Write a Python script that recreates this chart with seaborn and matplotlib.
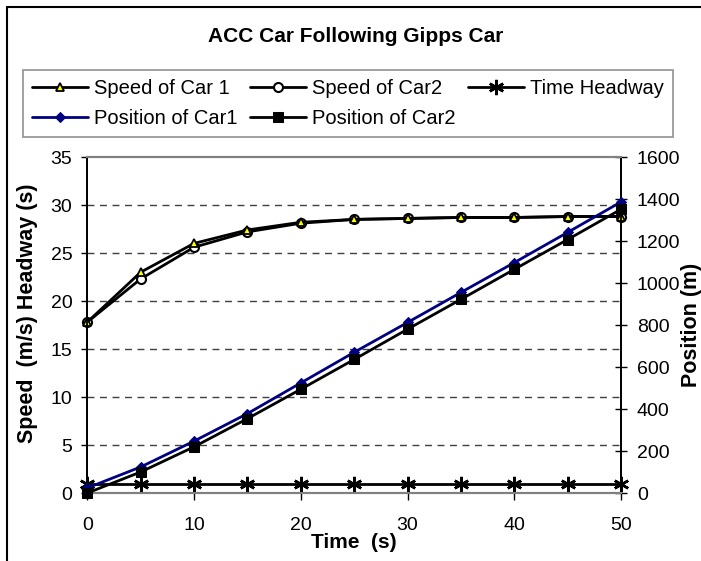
import matplotlib
matplotlib.use("Agg")
import matplotlib.pyplot as plt
from matplotlib.lines import Line2D
import seaborn as sns
import pandas as pd

# ---- data ----
time_s = [0, 5, 10, 15, 20, 25, 30, 35, 40, 45, 50]
speed_car1 = [17.8, 23.0, 26.0, 27.4, 28.2, 28.5, 28.6, 28.7, 28.7, 28.8, 28.8]
speed_car2 = [17.8, 22.3, 25.6, 27.2, 28.1, 28.5, 28.6, 28.7, 28.7, 28.8, 28.8]
time_headway = [0.9, 0.9, 0.9, 0.9, 0.9, 0.9, 0.9, 0.9, 0.9, 0.9, 0.9]
position_car1 = [24, 124, 247, 378, 524, 670, 812, 955, 1097, 1241, 1386]
position_car2 = [0, 100, 220, 354, 494, 636, 780, 922, 1065, 1207, 1351]

left_ticks = [0, 5, 10, 15, 20, 25, 30, 35]
right_ticks = [0, 200, 400, 600, 800, 1000, 1200, 1400, 1600]
x_ticks = [0, 10, 20, 30, 40, 50]

title = "ACC Car Following Gipps Car"
xlabel = "Time  (s)"
ylabel_left = "Speed  (m/s) Headway (s)"
ylabel_right = "Position (m)"

df = pd.DataFrame({
    "t": time_s,
    "s1": speed_car1,
    "s2": speed_car2,
    "th": time_headway,
    "p1": position_car1,
    "p2": position_car2,
})

sns.set_style("white")
plt.rcParams["font.family"] = ["Liberation Sans", "DejaVu Sans"]
plt.rcParams["text.color"] = "black"
plt.rcParams["axes.labelcolor"] = "black"
plt.rcParams["xtick.color"] = "black"
plt.rcParams["ytick.color"] = "black"

W, H = 701, 561
fig = plt.figure(figsize=(W / 100, H / 100), dpi=100)
ax = fig.add_axes([87.3 / W, 1 - 493 / H, (621 - 87.3) / W, (493 - 157) / H])
ax2 = ax.twinx()

navy = "#000080"
lw = 2.0

sns.lineplot(data=df, x="t", y="s1", ax=ax, color="black", lw=lw, marker="^",
             markersize=6, markerfacecolor="#ffff00", markeredgecolor="black",
             markeredgewidth=1.3, label="Speed of Car 1", clip_on=False, zorder=4)
sns.lineplot(data=df, x="t", y="s2", ax=ax, color="black", lw=lw, marker="o",
             markersize=6.5, markerfacecolor="white", markeredgecolor="black",
             markeredgewidth=1.5, label="Speed of Car2", clip_on=False, zorder=3)
sns.lineplot(data=df, x="t", y="th", ax=ax, color="black", lw=lw, marker=(6, 2, 0),
             markersize=11, markeredgecolor="black", markeredgewidth=1.8,
             label="Time Headway", clip_on=False, zorder=3)
sns.lineplot(data=df, x="t", y="p1", ax=ax2, color=navy, lw=lw, marker="D",
             markersize=5.5, markerfacecolor=navy, markeredgecolor=navy,
             label="Position of Car1", clip_on=False, zorder=3)
sns.lineplot(data=df, x="t", y="p2", ax=ax2, color="black", lw=lw, marker="s",
             markersize=6.5, markerfacecolor="black", markeredgecolor="black",
             label="Position of Car2", clip_on=False, zorder=3)

h1, l1 = ax.get_legend_handles_labels()
h2, l2 = ax2.get_legend_handles_labels()
for a in (ax, ax2):
    if a.get_legend() is not None:
        a.get_legend().remove()

# axes limits / ticks
ax.set_xlim(0, 50)
ax.set_ylim(0, 35)
ax2.set_ylim(0, 1600)
ax.set_xticks(x_ticks)
ax.set_yticks(left_ticks)
ax2.set_yticks(right_ticks)

fs = 14
ax.tick_params(axis="x", direction="out", length=5, width=1, pad=12, labelsize=fs,
               colors="black", bottom=True)
ax.tick_params(axis="y", direction="out", length=4.3, width=1, pad=6.5, labelsize=fs,
               colors="black", left=True)
ax2.tick_params(axis="y", direction="inout", length=9, width=1, pad=7, labelsize=fs,
                colors="black", right=True)

# grid: dashed horizontals at left ticks (except 0 and top)
ax.grid(False)
ax2.grid(False)
for v in left_ticks[1:-1]:
    ax.axhline(v, color="#404040", lw=1, ls=(0, (5, 4)), zorder=0.5)

for a in (ax, ax2):
    a.spines["top"].set_color("#808080")
    a.spines["top"].set_linewidth(1.5)
    a.spines["bottom"].set_color("#808080")
    a.spines["bottom"].set_linewidth(1.5)
    a.spines["left"].set_color("black")
    a.spines["left"].set_linewidth(1.3)
    a.spines["right"].set_color("black")
    a.spines["right"].set_linewidth(1.3)
    a.set_facecolor("none")

ax.set_xlabel(xlabel, fontsize=15, fontweight="bold")
ax.set_ylabel(ylabel_left, fontsize=15.5, fontweight="bold")
ax2.set_ylabel(ylabel_right, fontsize=15.5, fontweight="bold")
ax.xaxis.set_label_coords(0.5, -0.148)
ax.yaxis.set_label_coords(-0.112, 0.534)
ax2.yaxis.set_label_coords(1.132, 0.5)
ax.xaxis.label.set_va("center")
ax.yaxis.label.set_va("center")
ax2.yaxis.label.set_va("center")

fig.text(356 / W, 1 - 36 / H, title, ha="center", va="center",
         fontsize=15, fontweight="bold")

# legend ordered so rows read: S1 S2 TH / P1 P2
handles = [h1[0], h2[0], h1[1], h2[1], h1[2]]
labels = [l1[0], l2[0], l1[1], l2[1], l1[2]]
leg = fig.legend(handles, labels, loc="upper left",
                 bbox_to_anchor=(23 / W, 1 - 138 / H, 650 / W, 68 / H),
                 mode="expand", ncol=3, borderaxespad=0, fontsize=14.5,
                 frameon=True, fancybox=False, edgecolor="#808080",
                 handlelength=2.8, handletextpad=0.3, columnspacing=0.8,
                 labelspacing=0.55, borderpad=0.45)
leg.get_frame().set_linewidth(1.3)

# outer chart frame (left and top edges visible)
fig.add_artist(Line2D([6.5 / W, 6.5 / W], [0, 1 - 6.5 / H], color="black", lw=1.5,
                      transform=fig.transFigure))
fig.add_artist(Line2D([6.5 / W, 1], [1 - 6.5 / H, 1 - 6.5 / H], color="black", lw=1.5,
                      transform=fig.transFigure))

fig.savefig("out.png", dpi=100, facecolor="white")
